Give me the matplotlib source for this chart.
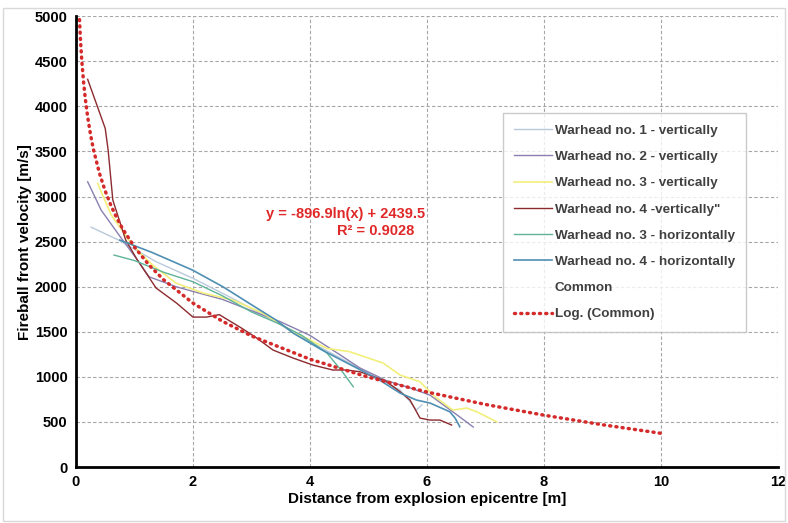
import matplotlib.pyplot as plt
from matplotlib.lines import Line2D
from matplotlib.patches import Rectangle

plt.rcParams['font.family'] = ['Liberation Sans', 'DejaVu Sans']

# distance [m] / velocity [m/s]
w1v_x = [0.26, 0.73, 1.37, 1.99, 2.73, 3.3, 4.0, 4.6, 5.0, 5.54, 5.71, 5.82, 5.91]
w1v_y = [2660, 2517, 2277, 2096, 1852, 1650, 1390, 1180, 1040, 854, 724, 632, 688]

w2v_x = [0.2, 0.43, 0.75, 1.05, 1.25, 1.71, 2.02, 2.5, 2.97, 3.5, 4.0, 4.5, 4.85, 5.3, 5.7, 6.05, 6.44, 6.79]
w2v_y = [3164, 2850, 2560, 2296, 2110, 2000, 1944, 1860, 1741, 1610, 1460, 1250, 1100, 960, 880, 798, 613, 444]

w3v_x = [0.37, 0.6, 0.9, 1.1, 1.31, 1.71, 2.17, 2.68, 3.19, 3.66, 4.29, 4.68, 5.25, 5.54, 5.88, 6.1, 6.44, 6.68, 6.85, 7.19]
w3v_y = [3146, 2800, 2520, 2370, 2240, 2040, 1930, 1852, 1708, 1519, 1316, 1279, 1153, 1020, 946, 798, 632, 654, 613, 502]

w4v_x = [0.2, 0.5, 0.55, 0.63, 0.85, 1.05, 1.37, 1.72, 2.0, 2.23, 2.45, 2.83, 3.09, 3.37, 3.71, 4.05,
         4.39, 4.63, 4.85, 5.1, 5.3, 5.54, 5.71, 5.88, 6.05, 6.22, 6.42]
w4v_y = [4300, 3756, 3515, 2961, 2517, 2296, 1985, 1818, 1663, 1663, 1690, 1541, 1430, 1297, 1209, 1131,
         1076, 1076, 1057, 1000, 950, 835, 743, 543, 521, 521, 466]

w3h_x = [0.65, 1.0, 1.5, 2.0, 2.5, 3.0, 3.5, 3.85, 4.29, 4.55, 4.74]
w3h_y = [2351, 2290, 2160, 2055, 1900, 1720, 1580, 1464, 1264, 1060, 890]

w4h_x = [0.75, 1.3, 1.99, 2.51, 3.0, 3.42, 3.71, 4.2, 4.8, 5.2, 5.54, 5.82, 6.05, 6.39, 6.48, 6.56]
w4h_y = [2517, 2380, 2185, 2000, 1800, 1630, 1486, 1300, 1098, 960, 820, 743, 710, 613, 543, 447]

# log trendline of the common series: y = -896.9ln(x) + 2439.5
log_x = [0.06, 0.08, 0.1, 0.13, 0.16, 0.2, 0.25, 0.3, 0.4, 0.5, 0.6, 0.7, 0.8, 1.0, 1.25,
         1.5, 2, 2.5, 3, 4, 5, 6, 7, 8, 9, 10]
log_y = [4962, 4705, 4505, 4269, 4083, 3883, 3683, 3519, 3261, 3061, 2898, 2759, 2640, 2440, 2239,
         2076, 1818, 1618, 1454, 1196, 996, 832, 694, 575, 469, 374]

series = [
    ('Warhead no. 1 - vertically', w1v_x, w1v_y, '#b9c9dc', 1.0),
    ('Warhead no. 2 - vertically', w2v_x, w2v_y, '#8a7fb0', 1.0),
    ('Warhead no. 3 - vertically', w3v_x, w3v_y, '#f2ef7a', 1.2),
    ('Warhead no. 4 -vertically"', w4v_x, w4v_y, '#8c2a2e', 1.0),
    ('Warhead no. 3 - horizontally', w3h_x, w3h_y, '#5fb39a', 1.0),
    ('Warhead no. 4 - horizontally', w4h_x, w4h_y, '#4f8fb3', 1.2),
]

fig = plt.figure(figsize=(7.88, 5.23), dpi=100)
fig.patches.append(Rectangle((0.004, 0.004), 0.992, 0.98, transform=fig.transFigure,
                             fill=False, edgecolor='#d9d9d9', linewidth=1))
ax = fig.add_axes([0.0964, 0.107, 0.891, 0.862])

handles = []
for name, xs, ys, col, lw in series:
    h, = ax.plot(xs, ys, color=col, linewidth=lw, label=name)
    handles.append(h)
handles.append(Line2D([], [], color='none', label='Common'))
h, = ax.plot(log_x, log_y, color='#d42a2a', linestyle=(0, (0.3, 1.5)), linewidth=2.5,
             dash_capstyle='round', label='Log. (Common)')
handles.append(h)

ax.text(4.6, 2806, 'y = -896.9ln(x) + 2439.5', color='#e02828', fontsize=10.5,
        fontweight='bold', ha='center', va='center')
ax.text(5.13, 2617, 'R² = 0.9028', color='#e02828', fontsize=10.5,
        fontweight='bold', ha='center', va='center')

ax.set_xlim(0, 12)
ax.set_ylim(0, 5000)
ax.set_xticks(range(0, 13, 2))
ax.set_yticks(range(0, 5001, 500))
ax.tick_params(length=0, labelsize=10.5, pad=6)
for lab in ax.get_xticklabels() + ax.get_yticklabels():
    lab.set_fontweight('bold')
ax.grid(True, color='#a6a6a6', linestyle=(0, (3, 2)), linewidth=0.8)
ax.set_axisbelow(True)
for s in ['top', 'right']:
    ax.spines[s].set_visible(False)
for s in ['left', 'bottom']:
    ax.spines[s].set_linewidth(2)
    ax.spines[s].set_color('black')

ax.set_xlabel('Distance from explosion epicentre [m]', fontsize=11, fontweight='bold', labelpad=2)
ax.set_ylabel('Fireball front velocity [m/s]', fontsize=11, fontweight='bold', labelpad=2)

leg = ax.legend(handles=handles, loc='upper left', bbox_to_anchor=(0.608, 0.785),
                borderaxespad=0, fontsize=9.7, frameon=True, fancybox=False,
                edgecolor='#bfbfbf', handlelength=2.8, labelspacing=1.02, borderpad=0.85,
                handletextpad=0.2)
for t in leg.get_texts():
    t.set_fontweight('bold')
    t.set_color('#404040')
leg.get_frame().set_linewidth(1)

fig.savefig('out.png', dpi=100)
